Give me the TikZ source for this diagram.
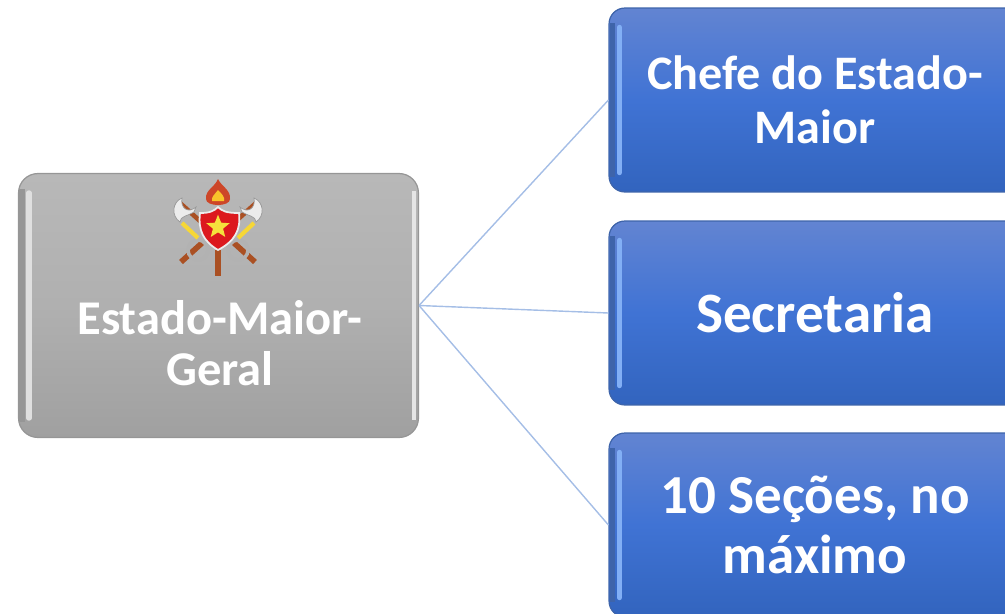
\documentclass[tikz,border=0pt]{standalone}
\usepackage{fontspec}
\setmainfont{Carlito}
\usepackage{tikz}
\usetikzlibrary{positioning}
\usetikzlibrary{calc}
\usetikzlibrary{shapes.geometric}
\definecolor{linkBlue}{RGB}{165,190,230}
\definecolor{blueTop}{RGB}{98,132,210}
\definecolor{blueMid}{RGB}{64,115,212}
\definecolor{blueBot}{RGB}{50,100,190}
\definecolor{blueRim}{RGB}{62,100,170}
\definecolor{blueLight}{RGB}{130,175,245}
\definecolor{grayTop}{RGB}{184,184,184}
\definecolor{grayMid}{RGB}{176,176,176}
\definecolor{grayBot}{RGB}{160,160,160}
\definecolor{grayRim}{RGB}{150,150,150}
\definecolor{axeBrown}{RGB}{170,80,35}
\definecolor{shieldRed}{RGB}{220,25,30}
\definecolor{starYellow}{RGB}{245,225,60}
\definecolor{flameOrange}{RGB}{205,70,40}
\tikzset{
  blueBox/.style={draw=blueRim, line width=.7pt, rounded corners=9pt, minimum width=412*0.569pt, minimum height=184*0.569pt,
    top color=blueTop, bottom color=blueBot, middle color=blueMid, text=white, align=center, inner sep=0pt},
  grayBox/.style={draw=grayRim, line width=.7pt, rounded corners=11pt, minimum width=400*0.569pt, minimum height=264*0.569pt,
    top color=grayTop, bottom color=grayBot, middle color=grayMid, text=white, align=center, inner sep=0pt},
  link/.style={draw=linkBlue, line width=.8pt},
  shine/.style={line width=3pt, line cap=round},
  rim/.style={line width=3pt}
}
\newcommand{\boxfont}[2]{\fontsize{#1}{#2}\selectfont\bfseries}
\begin{document}
\begin{tikzpicture}[x=.02cm, y=-.02cm]
    \useasboundingbox (0, 0) rectangle (1005, 613);
    \clip (0, 0) rectangle (1005, 613);

    % Main box
    \node[grayBox] (maior) at (218.5, 305.5) {};

    % Right column
    \node[blueBox, font=\boxfont{27.4}{31}] (chefe) at (815, 100) {Chefe do Estado-\\Maior};
    \node[blueBox, font=\boxfont{32.5}{36}] (secretaria) at (815, 313) {Secretaria};
    \node[blueBox, font=\boxfont{31.3}{34}] (secoes) at (815, 525) {10 Seções, no\\máximo};

    % Links
    \draw[link] (maior.east) -- (chefe.west);
    \draw[link] (maior.east) -- (secretaria.west);
    \draw[link] (maior.east) -- (secoes.west);

    % Bevel
    \draw[rim, grayRim] ($(maior.north west) + (4, 16)$) -- ($(maior.south west) + (4, -16)$);
    \draw[shine, white!75!gray] ($(maior.north west) + (11, 20)$) -- ($(maior.south west) + (11, -20)$);
    \draw[line width=2pt, white!80!gray] ($(maior.north east) + (-5, 18)$) -- ($(maior.south east) + (-5, -18)$);
    \foreach \b in {chefe, secretaria, secoes} {
      \draw[rim, blueRim] ($(\b.north west) + (4, 16)$) -- ($(\b.south west) + (4, -16)$);
      \draw[shine, blueLight] ($(\b.north west) + (11, 20)$) -- ($(\b.south west) + (11, -20)$);
    }

    % Emblem
    \foreach \s in {-1, 1} {
      \begin{scope}[shift={(218, 0)}, xscale=\s]
        \draw[axeBrown, line width=3.2pt] (16, 243) -- (37, 262);
        \draw[axeBrown, line width=2.6pt] (18, 221) -- (38, 203);
        \draw[gray!60, line width=2pt] (20, 250) circle (10);
        \draw[starYellow!90!orange, line width=2.4pt] (20, 238) -- (36, 223);
        \fill[white!85!gray, draw=gray!80] (22, 207) .. controls (30, 214) and (38, 208) .. (36, 198)
          .. controls (46, 202) and (47, 216) .. (38, 222) .. controls (38, 216) and (30, 216) .. (24, 212) -- cycle;
      \end{scope}
    }
    \draw[axeBrown, line width=3.2pt] (218, 250) -- (218, 276);
    \fill[flameOrange] (218, 179) .. controls (221, 186) and (231, 190) .. (230, 199) .. controls (230, 207) and (206, 207) .. (206, 199) .. controls (205, 190) and (215, 187) .. (218, 179) -- cycle;
    \fill[starYellow!70!orange] (218, 190) .. controls (222, 194) and (225, 197) .. (224, 201) -- (212, 201) .. controls (211, 197) and (215, 194) .. (218, 190) -- cycle;
    \fill[shieldRed, draw=white!85!gray, line width=1pt] (200, 213) .. controls (210, 213) and (214, 211) .. (218, 207)
      .. controls (222, 211) and (226, 213) .. (239, 213) .. controls (241, 230) and (235, 241) .. (218, 250)
      .. controls (203, 241) and (198, 230) .. (200, 213) -- cycle;
    \node[star, star points=5, star point ratio=2.3, fill=starYellow, minimum size=14pt, inner sep=0pt] (emblemStar) at (218, 227) {};

    % Main label
    \node[text=white, align=center, font=\boxfont{27.6}{29}] (maiorLabel) at (220, 343) {Estado-Maior-\\Geral};

\end{tikzpicture}
\end{document}
